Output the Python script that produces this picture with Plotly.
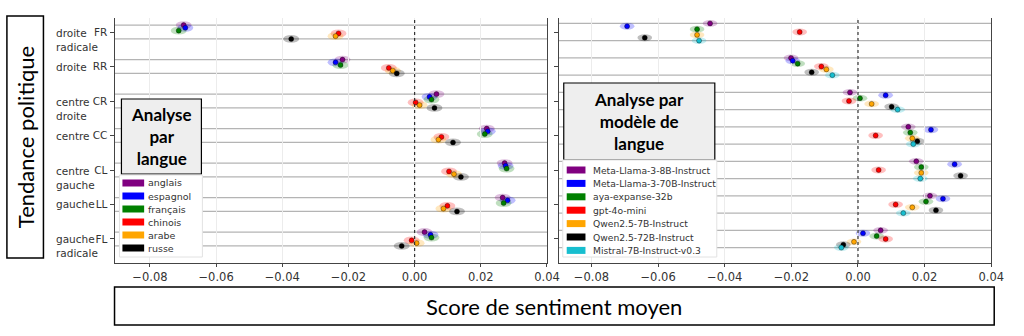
import numpy as np
import plotly.graph_objects as go

# ---------------- data ----------------
CATEGORIES = ["FR", "RR", "CR", "CC", "CL", "LL", "FL"]
CATEGORY_NAMES = ["droite<br>radicale", "droite", "centre<br>droite", "centre",
                  "centre<br>gauche", "gauche", "gauche<br>radicale"]

LANGUAGES = ["anglais", "espagnol", "français", "chinois", "arabe", "russe"]
LANG_COLORS = ["#800080", "#0000ff", "#008000", "#ff0000", "#ffa500", "#000000"]
anglais = [-0.0698, -0.0218, 0.0066, 0.0218, 0.0272, 0.0266, 0.0030]
espagnol = [-0.0693, -0.0239, 0.0045, 0.0221, 0.0275, 0.0281, 0.0048]
francais = [-0.0713, -0.0224, 0.0051, 0.0212, 0.0278, 0.0269, 0.0051]
chinois = [-0.0230, -0.0078, 0.0003, 0.0081, 0.0104, 0.0099, -0.0009]
arabe = [-0.0239, -0.0066, 0.0015, 0.0072, 0.0119, 0.0087, 0.0006]
russe = [-0.0373, -0.0054, 0.0060, 0.0116, 0.0140, 0.0128, -0.0039]
LANG_VALUES = [anglais, espagnol, francais, chinois, arabe, russe]

MODELS = ["Meta-Llama-3-8B-Instruct", "Meta-Llama-3-70B-Instruct", "aya-expanse-32b",
          "gpt-4o-mini", "Qwen2.5-7B-Instruct", "Qwen2.5-72B-Instruct", "Mistral-7B-Instruct-v0.3"]
MODEL_COLORS = ["#800080", "#0000ff", "#008000", "#ff0000", "#ffa500", "#000000", "#17becf"]
llama_8b = [-0.0444, -0.0201, -0.0024, 0.0151, 0.0175, 0.0216, 0.0068]
llama_70b = [-0.0693, -0.0196, 0.0083, 0.0219, 0.0290, 0.0255, 0.0015]
aya_32b = [-0.0483, -0.0181, 0.0006, 0.0157, 0.0190, 0.0204, 0.0056]
gpt_4o_mini = [-0.0175, -0.0110, -0.0027, 0.0053, 0.0062, 0.0113, 0.0083]
qwen_7b = [-0.0483, -0.0095, 0.0041, 0.0163, 0.0190, 0.0163, -0.0012]
qwen_72b = [-0.0640, -0.0139, 0.0101, 0.0178, 0.0308, 0.0234, -0.0044]
mistral_7b = [-0.0477, -0.0077, 0.0119, 0.0166, 0.0187, 0.0136, -0.0050]
MODEL_VALUES = [llama_8b, llama_70b, aya_32b, gpt_4o_mini, qwen_7b, qwen_72b, mistral_7b]

X_TICKS = [-0.08, -0.06, -0.04, -0.02, 0.0, 0.02, 0.04]
X_TICK_LABELS = ["\u22120.08", "\u22120.06", "\u22120.04", "\u22120.02", "0.00", "0.02", "0.04"]

# ---------------- layout helpers ----------------
W, H = 1024, 336
def px(p):
    return p / W
def py(p):
    return 1 - p / H

def rgba(hex_color, a):
    h = hex_color.lstrip("#")
    r, g, b = int(h[0:2], 16), int(h[2:4], 16), int(h[4:6], 16)
    return f"rgba({r},{g},{b},{a})"

fig = go.Figure()
shapes = []
annotations = []

panels = [
    dict(xa="x", ya="y", values=LANG_VALUES, names=LANGUAGES, colors=LANG_COLORS,
         half=0.2, ew=0.0024, eh=0.115),
    dict(xa="x2", ya="y2", values=MODEL_VALUES, names=MODELS, colors=MODEL_COLORS,
         half=0.25, ew=0.0022, eh=0.10),
]

cat_idx = np.arange(len(CATEGORIES))
for p in panels:
    n = len(p["values"])
    offsets = np.linspace(-p["half"], p["half"], n)
    xdom = p["xa"] + " domain"
    # horizontal guide lines at outer dodge positions
    for c in cat_idx:
        for yy in (c - p["half"], c + p["half"]):
            shapes.append(dict(type="line", xref=xdom, yref=p["ya"], x0=0, x1=1,
                               y0=float(yy), y1=float(yy),
                               line=dict(color="#b4b4b4", width=1.3), layer="below"))
    for i, (vals, name, col) in enumerate(zip(p["values"], p["names"], p["colors"])):
        ys = cat_idx + offsets[i]
        for xv, yv in zip(vals, ys):
            shapes.append(dict(type="circle", xref=p["xa"], yref=p["ya"],
                               x0=xv - p["ew"], x1=xv + p["ew"],
                               y0=float(yv - p["eh"]), y1=float(yv + p["eh"]),
                               fillcolor=rgba(col, 0.25), line=dict(width=0), layer="below"))
        fig.add_trace(go.Scatter(x=vals, y=ys.tolist(), mode="markers", name=name, showlegend=False,
                                 xaxis=p["xa"], yaxis=p["ya"],
                                 marker=dict(size=5, color=col,
                                             line=dict(color="rgba(0,0,0,0.45)", width=0.8))))
    # zero reference line (dotted), drawn above the grid
    shapes.append(dict(type="line", xref=p["xa"], yref=p["ya"] + " domain", x0=0, x1=0, y0=0, y1=1,
                       line=dict(color="#333333", width=1.2, dash="dot"), layer="above"))

# category long names on the left
for c, nm in zip(cat_idx, CATEGORY_NAMES):
    two = "<br>" in nm
    annotations.append(dict(text=nm, xref="paper", yref="y", x=px(55), y=int(c), xanchor="left",
                            yanchor="middle", align="left", showarrow=False,
                            yshift=-7.5 if two else 0,
                            font=dict(family="DejaVu Sans", size=10.5, color="#333333")))

# framed titles
shapes.append(dict(type="rect", xref="paper", yref="paper", x0=px(7), x1=px(44), y0=py(258), y1=py(16),
                   line=dict(color="black", width=1.5), layer="above"))
annotations.append(dict(text="Tendance politique", xref="paper", yref="paper", x=px(25.5), y=py(137),
                        textangle=-90, showarrow=False, xanchor="center", yanchor="middle",
                        font=dict(family="Lato", size=22, color="black")))
shapes.append(dict(type="rect", xref="paper", yref="paper", x0=px(116), x1=px(1007), y0=py(325), y1=py(287),
                   line=dict(color="black", width=1.5), layer="above"))
annotations.append(dict(text="Score de sentiment moyen", xref="paper", yref="paper", x=px(561.5), y=py(306),
                        showarrow=False, xanchor="center", yanchor="middle",
                        font=dict(family="Lato", size=22, color="black")))

# panel title boxes
boxes = [
    dict(x0=123, x1=204, y0=99, y1=174, text="Analyse<br>par<br>langue"),
    dict(x0=571, x1=724, y0=83, y1=160, text="Analyse par<br>modèle de<br>langue"),
]
for b in boxes:
    shapes.append(dict(type="rect", xref="paper", yref="paper", x0=px(b["x0"]), x1=px(b["x1"]),
                       y0=py(b["y1"]), y1=py(b["y0"]), fillcolor="#eeeeee",
                       line=dict(color="black", width=1.2), layer="above"))
    annotations.append(dict(text="<b>" + b["text"].replace("<br>", "</b><br><b>") + "</b>",
                            xref="paper", yref="paper", x=px((b["x0"] + b["x1"]) / 2),
                            y=py((b["y0"] + b["y1"]) / 2), showarrow=False, align="center",
                            xanchor="center", yanchor="middle",
                            font=dict(family="Lato", size=17, color="black")))

# custom legends
legends = [
    dict(bx0=121, bx1=205, by0=175, by1=257, names=LANGUAGES, colors=LANG_COLORS,
         pat0=124, pat1=146, tx=148, y0=183, step=13.0, fs=9.5),
    dict(bx0=570, bx1=726, by0=160, by1=257, names=MODELS, colors=MODEL_COLORS,
         pat0=574, pat1=593, tx=599, y0=170, step=13.4, fs=9.2),
]
for lg in legends:
    shapes.append(dict(type="rect", xref="paper", yref="paper", x0=px(lg["bx0"]), x1=px(lg["bx1"]),
                       y0=py(lg["by1"]), y1=py(lg["by0"]), fillcolor="white",
                       line=dict(color="#e2e2e2", width=1), layer="above"))
    for i, (nm, col) in enumerate(zip(lg["names"], lg["colors"])):
        yc = lg["y0"] + i * lg["step"]
        shapes.append(dict(type="rect", xref="paper", yref="paper", x0=px(lg["pat0"]), x1=px(lg["pat1"]),
                           y0=py(yc + 3.5), y1=py(yc - 3.5), fillcolor=col, line=dict(width=0),
                           layer="above"))
        annotations.append(dict(text=nm, xref="paper", yref="paper", x=px(lg["tx"]), y=py(yc),
                                xanchor="left", yanchor="middle", showarrow=False,
                                font=dict(family="DejaVu Sans", size=lg["fs"], color="#333333")))

ydom = [73 / H, 318 / H]
yrange = [6.696, -0.406]
axis_common = dict(showline=True, linecolor="#444444", linewidth=1, zeroline=False,
                   ticks="outside", ticklen=3, tickcolor="#444444")
xcommon = dict(axis_common, tickvals=X_TICKS, ticktext=X_TICK_LABELS, showgrid=True,
               gridcolor="#ececec", gridwidth=1,
               tickfont=dict(family="DejaVu Sans", size=11.5, color="#333333"))
ycommon = dict(axis_common, tickvals=[int(c) for c in cat_idx], ticktext=CATEGORIES, showgrid=False,
               mirror=True, range=yrange, domain=ydom, ticklen=4,
               tickfont=dict(family="DejaVu Sans", size=10.5, color="#333333"))

fig.update_layout(
    width=W, height=H, margin=dict(l=0, r=0, t=0, b=0),
    paper_bgcolor="white", plot_bgcolor="white", showlegend=False,
    xaxis=dict(xcommon, domain=[px(116), px(554)], range=[-0.0907, 0.040], anchor="y"),
    yaxis=dict(ycommon, anchor="x"),
    xaxis2=dict(xcommon, domain=[px(566), px(1004)], range=[-0.0898, 0.040], anchor="y2"),
    yaxis2=dict(ycommon, anchor="x2", showticklabels=False),
    shapes=shapes, annotations=annotations,
)

fig.write_html("out.html")
